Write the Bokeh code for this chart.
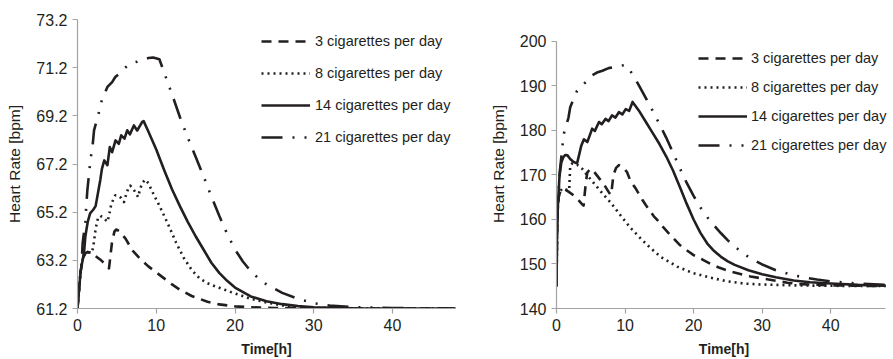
from bokeh.plotting import figure
from bokeh.layouts import row
from bokeh.models import Range1d, FixedTicker, PrintfTickFormatter, Legend, LegendItem
from bokeh.embed import file_html
from bokeh.resources import INLINE

# ---------------------------------------------------------------- data
series_labels = ["3 cigarettes per day", "8 cigarettes per day",
                 "14 cigarettes per day", "21 cigarettes per day"]

# Left panel: heart rate [bpm] over time [h]
left_t_3 = [0, 0.1, 0.2, 0.4, 0.7, 1.0, 1.3, 1.8, 2.4, 3.0, 3.5, 4.0, 4.15, 4.4, 4.7,
            4.9, 5.3, 6.1, 7.0, 8.0, 9.0, 10.0, 11.0, 12.0, 13.0, 14.5, 16.5, 18.0,
            20.0, 22.0, 25.0, 30.0, 36.0, 48.0]
left_hr_3 = [61.2, 61.65, 62.0, 62.75, 63.3, 63.5, 63.55, 63.48, 63.35, 63.2, 63.05,
             62.87, 63.3, 64.0, 64.4, 64.48, 64.42, 64.1, 63.6, 63.25, 62.95, 62.7,
             62.45, 62.2, 61.98, 61.72, 61.48, 61.37, 61.29, 61.25, 61.22, 61.2,
             61.2, 61.2]

left_t_8 = [0, 0.1, 0.2, 0.4, 0.7, 1.0, 1.3, 1.8, 2.0, 2.3, 2.6, 2.9, 3.35, 3.8, 4.0,
            4.3, 4.8, 5.2, 5.5, 5.9, 6.1, 6.4, 6.7, 7.0, 7.3, 7.7, 7.9, 8.2, 8.6, 9.0,
            9.5, 10.5, 11.5, 12.5, 13.5, 14.5, 15.5, 16.5, 17.5, 18.5, 19.5, 20.5,
            22.0, 24.0, 26.0, 28.0, 30.0, 35.0, 48.0]
left_hr_8 = [61.2, 61.65, 62.0, 62.75, 63.3, 63.5, 63.55, 63.5, 63.75, 64.5, 64.95,
             65.05, 64.95, 64.8, 65.05, 65.55, 65.9, 65.88, 65.8, 65.62, 65.85, 66.15,
             66.3, 66.2, 66.05, 65.83, 66.1, 66.4, 66.55, 66.4, 66.05, 65.4, 64.7,
             63.95, 63.3, 62.8, 62.45, 62.25, 62.12, 62.0, 61.88, 61.77, 61.6, 61.45,
             61.33, 61.26, 61.22, 61.2, 61.2]

left_t_14 = [0, 0.1, 0.2, 0.4, 0.7, 0.85, 1.0, 1.3, 1.6, 2.0, 2.3, 2.6, 2.9, 3.1, 3.4,
             3.8, 4.1, 4.4, 4.83, 5.25, 5.55, 5.97, 6.31, 6.65, 7.16, 7.58, 8.22, 8.4,
             9.0, 10.0, 11.0, 12.0, 13.0, 14.0, 15.0, 16.0, 17.0, 18.0, 19.0, 20.0,
             22.0, 24.0, 26.0, 28.0, 30.0, 35.0, 48.0]
left_hr_14 = [61.2, 61.65, 62.0, 62.75, 63.3, 63.6, 64.2, 64.8, 65.15, 65.3, 65.45,
              66.0, 66.55, 67.0, 67.35, 67.15, 67.9, 67.69, 68.18, 68.04, 68.39, 68.25,
              68.6, 68.43, 68.8, 68.59, 68.95, 68.98, 68.55, 67.8, 66.95, 66.15, 65.45,
              64.8, 64.2, 63.65, 63.1, 62.68, 62.35, 62.07, 61.7, 61.5, 61.38, 61.3,
              61.25, 61.21, 61.2]

left_t_21 = [0, 0.1, 0.2, 0.4, 0.55, 0.65, 0.8, 1.0, 1.1, 1.25, 1.5, 1.65, 1.9, 2.1,
             2.5, 2.9, 3.15, 3.4, 3.8, 4.4, 4.8, 5.3, 5.9, 6.5, 6.9, 7.6, 8.2, 9.0, 9.6,
             10.4, 11.0, 12.0, 13.0, 14.0, 15.0, 16.0, 17.0, 18.0, 19.0, 20.0, 21.0,
             22.0, 23.0, 24.0, 26.0, 28.0, 30.0, 32.0, 35.0, 40.0, 48.0]
left_hr_21 = [61.2, 61.65, 62.0, 62.75, 63.2, 63.9, 64.3, 64.7, 65.4, 66.1, 66.9, 67.4,
              67.9, 68.6, 69.08, 69.56, 69.95, 70.1, 70.4, 70.6, 70.81, 70.95, 71.15,
              71.33, 71.39, 71.45, 71.53, 71.6, 71.62, 71.55, 71.0, 70.1, 69.15, 68.3,
              67.5, 66.7, 65.85, 65.05, 64.3, 63.65, 63.15, 62.75, 62.45, 62.2, 61.85,
              61.6, 61.42, 61.32, 61.26, 61.22, 61.2]

# Right panel: heart rate [bpm] over time [h]
right_t_3 = [0, 0.05, 0.1, 0.2, 0.35, 0.6, 0.9, 1.2, 1.8, 2.5, 3.0, 3.75, 3.95, 4.1,
             4.3, 4.5, 5.0, 5.4, 6.4, 7.0, 7.6, 7.9, 8.05, 8.3, 8.7, 9.1, 9.8, 10.3,
             10.8, 11.5, 12.5, 13.0, 14.2, 14.7, 15.6, 16.6, 17.9, 18.9, 20.0, 21.3,
             22.5, 23.7, 25.4, 26.4, 28.3, 29.8, 33.7, 35.2, 40.0, 44.0, 48.0]
right_hr_3 = [145, 152, 159, 163, 165.3, 166.5, 167.0, 166.8, 166.2, 165.4, 164.7,
              163.4, 163.1, 165.5, 168.5, 170.6, 171.4, 170.9, 168.9, 167.7, 166.2,
              165.5, 166.5, 170.0, 171.6, 172.2, 171.6, 170.6, 168.6, 167.1, 164.5,
              163.3, 160.7, 159.9, 158.2, 156.5, 154.4, 153.2, 152.0, 151.0, 150.0,
              149.2, 148.3, 147.9, 147.2, 146.8, 145.8, 145.5, 145.2, 145.1, 145.05]

right_t_8 = [0, 0.05, 0.1, 0.2, 0.35, 0.6, 0.9, 1.2, 1.6, 1.85, 2.0, 2.3, 3.0, 3.75,
             4.5, 5.0, 6.4, 7.9, 9.3, 10.8, 12.3, 13.7, 15.2, 17.6, 20.0, 22.5, 24.9,
             27.4, 29.8, 34.7, 40.0, 48.0]
right_hr_8 = [145, 152, 159, 163, 165.3, 166.5, 167.0, 166.8, 166.6, 166.6, 172.0,
              172.6, 172.3, 171.4, 169.9, 169.0, 166.4, 163.8, 161.0, 158.1, 155.7,
              153.6, 151.6, 149.4, 147.9, 146.9, 146.1, 145.6, 145.4, 145.2, 145.1,
              145.05]

right_t_14 = [0, 0.05, 0.1, 0.2, 0.3, 0.45, 0.7, 1.0, 1.3, 1.6, 2.0, 2.5, 3.0, 3.3, 3.6,
              4.0, 4.5, 5.0, 5.2, 5.6, 6.2, 6.6, 7.15, 7.6, 8.1, 8.6, 9.1, 9.6, 10.1,
              10.6, 11.1, 12.0, 13.0, 14.0, 15.0, 16.0, 17.0, 18.0, 19.0, 20.0, 21.0,
              22.0, 23.0, 24.0, 25.0, 26.0, 28.0, 30.0, 32.0, 34.6, 37.0, 40.0, 44.0,
              48.0]
right_hr_14 = [145, 152, 159, 163, 166, 170, 172.8, 174.0, 174.5, 174.4, 173.6, 172.9,
               172.6, 174.5, 176.5, 178.0, 177.4, 179.5, 180.4, 179.9, 181.9, 181.4,
               182.6, 182.1, 183.4, 182.9, 184.1, 183.6, 184.8, 184.4, 186.4, 184.5,
               182.0, 179.5, 177.0, 174.2, 171.0, 167.3, 163.5, 160.0, 157.0, 154.6,
               152.9, 151.6, 150.6, 149.8, 148.6, 147.7, 147.0, 146.3, 145.9, 145.6,
               145.3, 145.15]

right_t_21 = [0, 0.05, 0.1, 0.2, 0.3, 0.5, 0.83, 1.07, 1.3, 1.75, 2.0, 2.5, 3.0, 3.75,
              4.5, 5.2, 5.9, 6.7, 7.6, 8.3, 9.1, 9.6, 10.1, 10.5, 11.05, 12.0, 13.0,
              14.0, 15.0, 16.0, 17.0, 18.0, 19.0, 20.0, 21.0, 22.0, 23.0, 24.0, 25.0,
              26.0, 27.0, 28.0, 29.0, 30.0, 32.0, 34.0, 36.0, 38.0, 40.0, 44.0, 48.0]
right_hr_21 = [145, 152, 159, 163, 166, 171, 175.9, 179.3, 180.4, 182.9, 185.2, 187.1,
               188.9, 190.1, 191.2, 192.4, 193.0, 193.4, 194.0, 194.2, 194.5, 194.6,
               194.7, 194.0, 192.7, 190.2, 187.4, 184.5, 181.5, 178.4, 175.0, 171.5,
               168.2, 165.3, 162.7, 160.5, 158.6, 156.9, 155.3, 153.9, 152.7, 151.6,
               150.7, 149.9, 148.6, 147.7, 147.0, 146.5, 146.1, 145.6, 145.3]

left_y_ticks = [61.2, 63.2, 65.2, 67.2, 69.2, 71.2, 73.2]
right_y_ticks = [140, 150, 160, 170, 180, 190, 200]
x_ticks = [0, 10, 20, 30, 40]
T_END = 48

# ---------------------------------------------------------------- style
FONT = "Liberation Sans"
INK = "#231f20"
AXIS_GREY = "#a3a3a3"
dash_styles = ["10 7", "2 4", "solid", "21 10 2 10 2 10"]

# Both figures share one frame top/bottom inside the row; the right panel's
# axis is drawn only over its own value span via axis bounds.
FRAME_TOP = 19
FRAME_BOTTOM_BORDER = 50
HEIGHT = 359


def make_panel(width, border_lr, x_end, y_span, y_view_end, y_ticks, y_fmt, curves,
               legend_loc, legend_spacing, legend_standoff):
    left, right = border_lr
    p = figure(width=width, height=HEIGHT, output_backend="svg", toolbar_location=None,
               x_range=Range1d(0, x_end), y_range=Range1d(y_span[0], y_view_end),
               min_border_left=left, min_border_right=right,
               min_border_top=FRAME_TOP, min_border_bottom=FRAME_BOTTOM_BORDER)
    p.outline_line_color = None
    p.grid.visible = False
    p.background_fill_color = "white"
    p.border_fill_color = "white"

    items = []
    for (t, hr), label, dash in zip(curves, series_labels, dash_styles):
        r = p.line(t, hr, line_color=INK, line_width=2.6, line_dash=dash,
                   line_join="round")
        items.append(LegendItem(label=label, renderers=[r]))

    for ax in (p.xaxis[0], p.yaxis[0]):
        ax.axis_line_color = AXIS_GREY
        ax.axis_line_width = 1.2
        ax.major_tick_line_color = AXIS_GREY
        ax.major_tick_line_width = 1.2
        ax.major_tick_in = 0
        ax.major_tick_out = 5
        ax.minor_tick_line_color = None
        ax.major_label_text_font = FONT
        ax.major_label_text_font_size = "16px"
        ax.major_label_text_color = INK
        ax.major_label_standoff = 5
        ax.axis_label_text_font = FONT
        ax.axis_label_text_color = INK

    p.xaxis.ticker = FixedTicker(ticks=x_ticks)
    p.xaxis.bounds = (0, T_END)
    p.xaxis.axis_label = "Time[h]"
    p.xaxis.axis_label_text_font_style = "bold"
    p.xaxis.axis_label_text_font_size = "14px"
    p.xaxis.axis_label_standoff = 7

    p.yaxis.ticker = FixedTicker(ticks=y_ticks)
    p.yaxis.bounds = y_span
    p.yaxis.formatter = PrintfTickFormatter(format=y_fmt)
    p.yaxis.axis_label = "Heart Rate [bpm]"
    p.yaxis.axis_label_text_font_style = "normal"
    p.yaxis.axis_label_text_font_size = "15.5px"
    p.yaxis.axis_label_standoff = 10

    legend = Legend(items=items, location=legend_loc,
                    glyph_width=49, glyph_height=20, label_height=20,
                    label_standoff=legend_standoff, spacing=legend_spacing,
                    padding=0, margin=0,
                    label_text_font=FONT, label_text_font_size="14.5px",
                    label_text_color=INK,
                    border_line_color=None, background_fill_alpha=0)
    p.add_layout(legend)
    return p


# left frame: x 77..455 px, y 19..309 px
left_panel = make_panel(
    480, (77, 25), T_END, (61.2, 73.2), 73.2, left_y_ticks, "%.1f",
    [(left_t_3, left_hr_3), (left_t_8, left_hr_8),
     (left_t_14, left_hr_14), (left_t_21, left_hr_21)],
    (184, 161), 12, 5)

# right frame: x 556..891 px (axis drawn to t=48), y 19..309 px with 140..200
# occupying 41..309
right_panel = make_panel(
    413, (76, 2), T_END * 335 / 329, (140, 200), 140 + 60 * 290 / 268,
    right_y_ticks, "%d",
    [(right_t_3, right_hr_3), (right_t_8, right_hr_8),
     (right_t_14, right_hr_14), (right_t_21, right_hr_21)],
    (142, 153), 9, 4)

layout = row(left_panel, right_panel)
open("out.html", "w").write(file_html(layout, INLINE))
